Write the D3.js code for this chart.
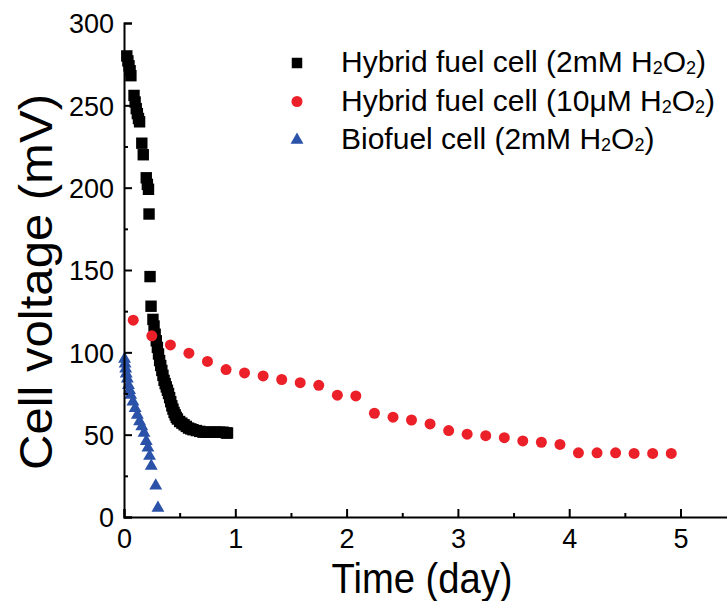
<!DOCTYPE html>
<html>
<head>
<meta charset="utf-8">
<script src="https://cdn.jsdelivr.net/npm/d3@7"></script>
<style>
  html, body { margin: 0; padding: 0; background: #fff; }
  svg { display: block; font-family: "Liberation Sans", Arial, Helvetica, sans-serif; }
</style>
</head>
<body>
<svg id="chart" width="727" height="601"></svg>
<script>
// Hybrid fuel cell, 2 mM H2O2: time (day) and cell voltage (mV)
const hybrid2mMTime = [0.025, 0.035, 0.045, 0.055, 0.062,
  0.09, 0.10, 0.11, 0.12, 0.13, 0.14,
  0.16, 0.173, 0.20, 0.21, 0.22, 0.225, 0.234, 0.243,
  0.26, 0.27, 0.28, 0.29, 0.30, 0.31, 0.32, 0.33, 0.34, 0.35, 0.36, 0.37, 0.38, 0.39, 0.40,
  0.41, 0.42, 0.43, 0.44, 0.45, 0.46, 0.47, 0.48, 0.50, 0.52, 0.54, 0.56, 0.58, 0.60, 0.62,
  0.65, 0.68, 0.71, 0.74, 0.77, 0.80, 0.83, 0.86, 0.89, 0.92, 0.93];
const hybrid2mMVoltage = [280, 277, 274, 271, 268,
  256, 252, 248, 245, 242, 240,
  227, 220, 206, 202, 199, 184, 146, 128,
  120, 116, 111, 107, 103, 99, 95, 92, 89, 86, 83, 81, 79, 77, 75,
  72.5, 70, 67.5, 65.5, 63.5, 62, 60.5, 59.5, 58, 57, 56, 55, 54, 53.5, 53,
  52.5, 52, 51.5, 51.5, 51.5, 51.5, 51.5, 51.5, 51.5, 51, 51];

// Hybrid fuel cell, 10 µM H2O2
const hybrid10uMTime = [0.083, 0.25, 0.417, 0.583, 0.75, 0.917, 1.083, 1.25, 1.417, 1.583,
  1.75, 1.917, 2.083, 2.25, 2.417, 2.583, 2.75, 2.917, 3.083, 3.25,
  3.417, 3.583, 3.75, 3.917, 4.083, 4.25, 4.417, 4.583, 4.75, 4.917];
const hybrid10uMVoltage = [119.5, 110, 104.5, 99.5, 94.5, 89.5, 87.5, 85.7, 83.5, 81.6,
  80, 74, 73.5, 63, 60.6, 58.9, 56.5, 52.5, 50.3, 49.4,
  48.2, 46.2, 45.4, 44.1, 39, 39, 39, 38.6, 38.6, 38.6];

// Biofuel cell, 2 mM H2O2
const biofuelTime = [0.005, 0.01, 0.015, 0.02, 0.03, 0.04, 0.05, 0.06, 0.08, 0.10,
  0.12, 0.14, 0.16, 0.18, 0.20, 0.215, 0.23, 0.245, 0.285, 0.305];
const biofuelVoltage = [96, 93, 90, 87, 84, 80, 77, 74, 70, 66,
  62, 58, 55, 51, 46, 42, 37, 31, 19, 5.5];

// Axis ticks
const xMajorTicks = [0, 1, 2, 3, 4, 5];
const xMinorTicks = [0.5, 1.5, 2.5, 3.5, 4.5, 5.5];
const yMajorTicks = [0, 50, 100, 150, 200, 250, 300];
const yMinorTicks = [25, 75, 125, 175, 225, 275];

const seriesNames = ["Hybrid fuel cell (2mM ", "Hybrid fuel cell (10\u03bcM ", "Biofuel cell (2mM "];
const seriesColors = ["#000000", "#ec2028", "#2a52a8"];

const svg = d3.select("#chart");

const x = d3.scaleLinear().domain([0, 5.5]).range([124, 124 + 5.5 * 111.3]);
const y = d3.scaleLinear().domain([0, 300]).range([517, 23]);

const symbolTypes = [d3.symbolSquare, d3.symbolCircle, d3.symbolTriangle];
const symbols = [
  d3.symbol().type(symbolTypes[0]).size(130),
  d3.symbol().type(symbolTypes[1]).size(95),
  d3.symbol().type(symbolTypes[2]).size(72)
];

const series = [
  d3.zip(hybrid2mMTime, hybrid2mMVoltage),
  d3.zip(hybrid10uMTime, hybrid10uMVoltage),
  d3.zip(biofuelTime, biofuelVoltage)
];

// Markers
series.forEach((pts, i) => {
  svg.append("g")
    .selectAll("path")
    .data(pts)
    .join("path")
    .attr("d", symbols[i]())
    .attr("transform", d => `translate(${x(d[0])},${y(d[1])})`)
    .attr("fill", seriesColors[i]);
});

// Axes with inward ticks
const xAxisG = svg.append("g")
  .attr("transform", `translate(0,${y(0)})`)
  .call(d3.axisBottom(x).tickValues(xMajorTicks).tickSize(-8).tickPadding(12).tickFormat(d3.format("d")));
svg.append("g")
  .attr("transform", `translate(0,${y(0)})`)
  .call(d3.axisBottom(x).tickValues(xMinorTicks).tickSize(-4).tickFormat(""))
  .call(g => g.select(".domain").remove());

const yAxisG = svg.append("g")
  .attr("transform", `translate(${x(0)},0)`)
  .call(d3.axisLeft(y).tickValues(yMajorTicks).tickSize(-8).tickPadding(10).tickFormat(d3.format("d")));
svg.append("g")
  .attr("transform", `translate(${x(0)},0)`)
  .call(d3.axisLeft(y).tickValues(yMinorTicks).tickSize(-4).tickFormat(""))
  .call(g => g.select(".domain").remove());

svg.selectAll("g").attr("font-family", null);
svg.selectAll(".domain").attr("stroke", "#000").attr("stroke-width", 2);
svg.selectAll(".tick line").attr("stroke", "#000").attr("stroke-width", 2);
svg.selectAll(".tick text")
  .attr("fill", "#000")
  .attr("font-size", 27);
xAxisG.selectAll(".tick text").attr("dy", "0.71em");
yAxisG.selectAll(".tick text").attr("dy", "0.36em");

// Axis titles
svg.append("text")
  .attr("x", 422)
  .attr("y", 593)
  .attr("text-anchor", "middle")
  .attr("font-size", 42)
  .attr("textLength", 181)
  .attr("lengthAdjust", "spacingAndGlyphs")
  .text("Time (day)");

svg.append("text")
  .attr("transform", "translate(52,282) rotate(-90)")
  .attr("text-anchor", "middle")
  .attr("font-size", 46)
  .attr("textLength", 376)
  .attr("lengthAdjust", "spacingAndGlyphs")
  .text("Cell voltage (mV)");

// Legend
const legend = svg.append("g");
seriesNames.forEach((name, i) => {
  const baseY = 72 + i * 38.5;
  legend.append("path")
    .attr("d", d3.symbol().type(symbolTypes[i]).size([110, 95, 72][i])())
    .attr("transform", `translate(297,${baseY - 9})`)
    .attr("fill", seriesColors[i]);
  const t = legend.append("text")
    .attr("x", 341)
    .attr("y", baseY)
    .attr("font-size", 30)
    .attr("fill", "#000");
  t.append("tspan").text(name + "H");
  t.append("tspan").attr("font-size", 18).attr("dy", 2).text("2");
  t.append("tspan").attr("dy", -2).text("O");
  t.append("tspan").attr("font-size", 18).attr("dy", 2).text("2");
  t.append("tspan").attr("dy", -2).text(")");
});
</script>
</body>
</html>
